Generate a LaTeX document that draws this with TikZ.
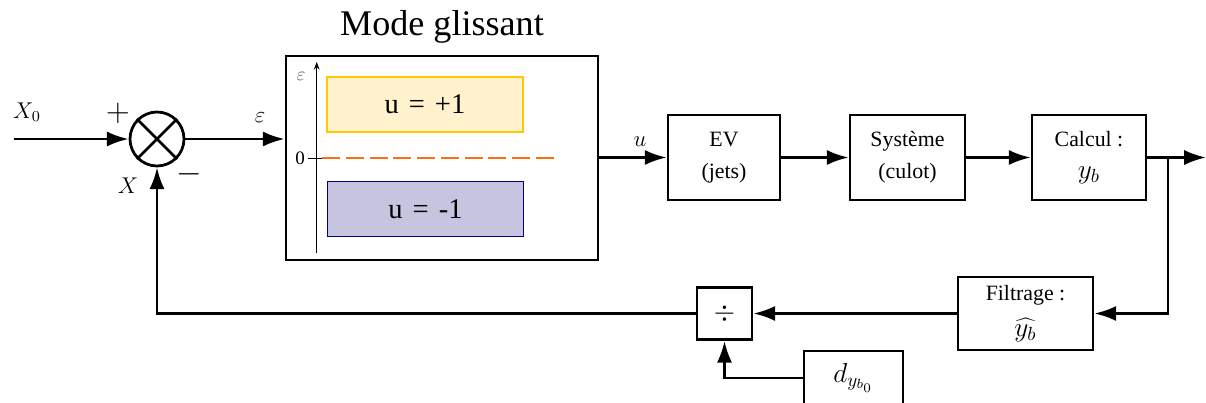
\documentclass[tikz,border=0pt]{standalone}
\usepackage{fontspec}
\setmainfont{Liberation Serif}
\usetikzlibrary{arrows.meta}
\definecolor{ylfill}{RGB}{255,242,204}
\definecolor{yldraw}{RGB}{255,200,0}
\definecolor{blfill}{RGB}{197,197,224}
\definecolor{bldraw}{RGB}{0,0,128}
\definecolor{dashor}{RGB}{255,110,20}
\begin{document}
\begin{tikzpicture}[x=0.0185cm,y=-0.0185cm,
  line width=1.45pt,
  blk/.style={draw, line width=1.45pt, align=center, inner sep=0pt,
    font=\fontsize{11.5}{17}\selectfont},
  arr/.style={-{Latex[length=11.5pt,width=8pt]}},
  lbl/.style={inner sep=0pt},
  ubox/.style={line width=1pt, inner sep=0pt,
    minimum width={196*0.0185cm}, minimum height={55*0.0185cm},
    font=\fontsize{15}{17}\selectfont}]
\useasboundingbox (0,0) rectangle (1206,403);
\clip (0,0) rectangle (1206,403);

% summing junction
\node[draw, circle, minimum size={54*0.0185cm}, inner sep=0pt] (sum) at (157,139) {};
\draw (sum.north west) -- (sum.south east);
\draw (sum.north east) -- (sum.south west);
\coordinate (in) at (14,139);
\draw[arr] (in) -- (sum.west);
\node[lbl, font=\large] (x0) at (27,112) {$X_0$};
\node[lbl] (plus) at (118,113) {\LARGE$+$};
\node[lbl] (minus) at (189,174) {\LARGE$-$};
\node[lbl, font=\large] (xl) at (128,186) {$X$};

% sliding mode block
\node[draw, minimum width={312*0.0185cm}, minimum height={204*0.0185cm}, inner sep=0pt] (big) at (442,158) {};
\node[lbl, font=\fontsize{19}{21}\selectfont] (title) at (442,27) {Mode glissant};
\draw[arr] (sum.east) -- (big.west |- sum.east);
\node[lbl, font=\large] (eps) at (260,118) {$\varepsilon$};

\coordinate (axb) at (316.7,253);
\coordinate (axt) at (316.7,62);
\draw[line width=0.5pt, -{Stealth[length=4pt,width=3pt]}] (axb) -- (axt);
\node[lbl, text=black!60] (epsax) at (301,76) {$\varepsilon$};
\node[lbl] (zero) at (300,158) {0};
\coordinate (t0) at (308,158);
\coordinate (t1) at (322,158);
\coordinate (d1) at (558,158);
\draw[line width=0.5pt] (t0) -- (t1);
\draw[dashor, line width=1pt, dash pattern=on 9.5pt off 3pt] (t1) -- (d1);

\node[ubox, draw=yldraw, fill=ylfill] (up) at (425,104.5) {u\hspace{0.35em}=\hspace{0.35em}+1};
\node[ubox, draw=bldraw, fill=blfill] (dn) at (425.5,209) {u\hspace{0.35em}=\hspace{0.35em}-1};

% forward chain
\node[blk, minimum width={112*0.0185cm}, minimum height={85*0.0185cm}] (ev) at (724,157.5) {EV\\(jets)};
\node[blk, minimum width={115*0.0185cm}, minimum height={85*0.0185cm}] (sys) at (907.5,157.5) {Système\\(culot)};
\node[blk, minimum width={114*0.0185cm}, minimum height={85*0.0185cm}] (calc) at (1089,157.5) {Calcul :\\\Large$y_b$};
\draw[arr] (big.east |- ev.west) -- (ev.west);
\node[lbl, font=\large] (ul) at (640,142) {$u$};
\draw[arr] (ev.east) -- (sys.west);
\draw[arr] (sys.east) -- (calc.west);
\coordinate (out) at (1206,157.5);
\coordinate (br) at (1168,157.5);
\draw[arr] (calc.east) -- (out);

% feedback
\node[blk, minimum width={135*0.0185cm}, minimum height={73*0.0185cm}] (filt) at (1025.5,313.5) {Filtrage :\\[2pt]\Large$\widehat{y_b}$};
\node[blk, minimum width={55*0.0185cm}, minimum height={52*0.0185cm}] (div) at (724.5,313.5) {\Large$\div$};
\node[blk, minimum width={99*0.0185cm}, minimum height={54*0.0185cm}] (dd) at (853.5,378) {\Large$d_{y_{b_0}}$};
\draw[arr] (br) |- (filt.east);
\draw[arr] (filt.west) -- (div.east);
\draw[arr] (div.west) -| (sum.south);
\draw[arr] (dd.west) -| (div.south);
\end{tikzpicture}
\end{document}
